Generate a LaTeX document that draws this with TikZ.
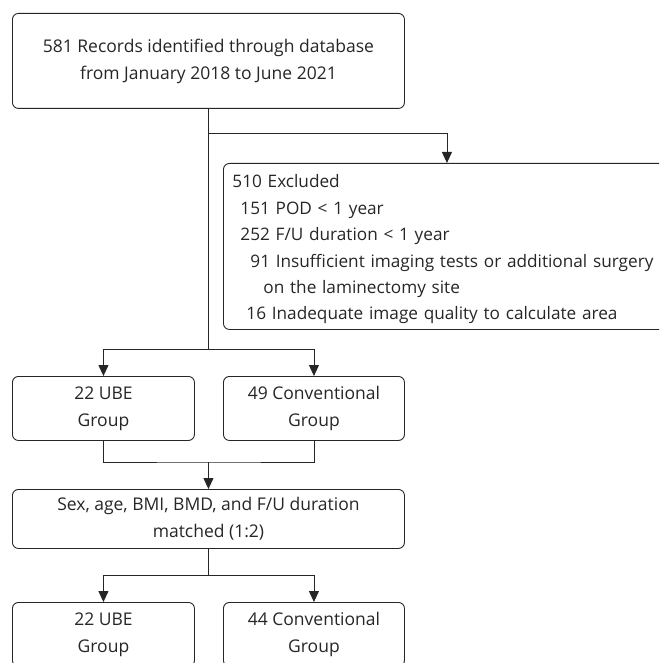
\documentclass[tikz,border=0pt]{standalone}
\usepackage{fontspec}
\setmainfont{Open Sans}
\usetikzlibrary{arrows.meta}

\tikzset{
    box/.style={draw=black!85, rounded corners=6pt, line width=0.9pt, align=center,
        anchor=north west, inner sep=0pt},
    flow/.style={draw=black!85, line width=0.9pt}
}

\begin{document}
\begin{tikzpicture}[x=1pt, y=-1pt, >={Triangle[length=11pt,width=10pt]},
    every node/.style={font=\fontsize{17.5}{27}\selectfont, text=black!85}]
    % Define the page frame
    \useasboundingbox (0,0) rectangle (659,663);
    \clip (0,0) rectangle (659,663);

    % Top box - records identified
    \node[box, minimum width=392pt, minimum height=95pt] (records) at (12,13)
        {581 Records identified through database\\from January 2018 to June 2021};

    % Exclusion box, runs off the right edge
    \node[box, align=left, text width=429pt, minimum height=166pt, inner xsep=9pt,
        font=\fontsize{17.2}{26.4}\selectfont] (excluded) at (223,163)
        {\rule{0pt}{19pt}510 Excluded\\
         \hspace*{8pt}151 POD < 1 year\\
         \hspace*{8pt}252 F/U duration < 1 year\\
         \hspace*{18pt}91 Insufficient imaging tests or additional surgery\\
         \hspace*{31pt}on the laminectomy site\\
         \hspace*{14pt}16 Inadequate image quality to calculate area};

    % Groups before matching
    \node[box, minimum width=182pt, minimum height=64pt] (ubeA) at (12,376) {22 UBE\\Group};
    \node[box, minimum width=181pt, minimum height=64pt] (convA) at (223,376) {49 Conventional\\Group};

    % Matching box
    \node[box, minimum width=392pt, minimum height=59pt] (matched) at (12,489)
        {Sex, age, BMI, BMD, and F/U duration\\matched (1:2)};

    % Groups after matching, cut at the bottom edge
    \node[box, minimum width=182pt, minimum height=64pt] (ubeB) at (12,602) {22 UBE\\Group};
    \node[box, minimum width=181pt, minimum height=64pt] (convB) at (223,602) {44 Conventional\\Group};

    % Connectors
    \coordinate (exclSplit) at (records.south |- 0,133);
    \coordinate (groupSplit) at (records.south |- 0,349);
    \coordinate (groupMerge) at (records.south |- 0,462);
    \coordinate (matchSplit) at (records.south |- 0,575);

    \draw[flow] (records.south) -- (groupSplit);
    \draw[flow, ->] (exclSplit) -| (excluded.north);
    \draw[flow, ->] (groupSplit) -| (ubeA.north);
    \draw[flow, ->] (groupSplit) -| (convA.north);
    \draw[flow] (ubeA.south) |- (groupMerge) -| (convA.south);
    \draw[flow, ->] (groupMerge) -- (matched.north);
    \draw[flow] (matched.south) -- (matchSplit);
    \draw[flow, ->] (matchSplit) -| (ubeB.north);
    \draw[flow, ->] (matchSplit) -| (convB.north);
\end{tikzpicture}
\end{document}
